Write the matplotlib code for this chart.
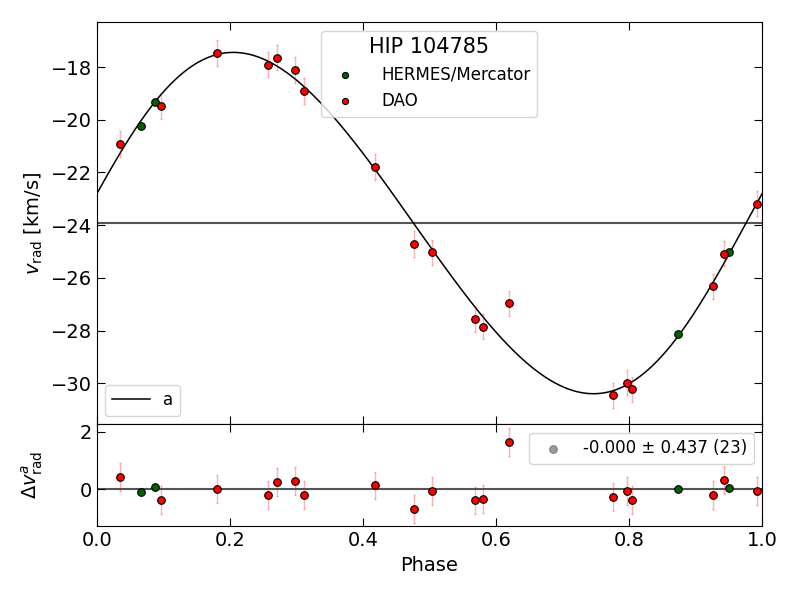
import numpy as np
import matplotlib
matplotlib.use("Agg")
import matplotlib.pyplot as plt

# ---- data ----
phase_hermes = [0.066, 0.087, 0.874, 0.950]
v_hermes = [-20.23, -19.33, -28.13, -25.03]
res_hermes = [-0.08, 0.08, 0.00, 0.05]

phase_dao = [0.0356, 0.0962, 0.1805, 0.257, 0.271, 0.298, 0.311, 0.4175, 0.477,
             0.504, 0.568, 0.580, 0.6196, 0.7755, 0.7975, 0.804, 0.926, 0.943, 0.992]
v_dao = [-20.92, -19.48, -17.47, -17.91, -17.65, -18.11, -18.91, -21.79, -24.72,
         -25.03, -27.56, -27.85, -26.96, -30.46, -29.97, -30.23, -26.32, -25.08, -23.18]
err_dao = [0.48] * 19
res_dao = [0.44, -0.36, 0.02, -0.19, 0.27, 0.30, -0.18, 0.14, -0.68,
           -0.04, -0.38, -0.33, 1.65, -0.25, -0.04, -0.36, -0.19, 0.32, -0.04]

# orbital model parameters (phase units)
K = 6.475
gamma = -23.92
ecc = 0.065
omega_deg = 270.0
T0 = 0.976

star = "HIP 104785"
resid_label = "-0.000 ± 0.437 (23)"


def kepler_rv(ph):
    M = 2 * np.pi * ((ph - T0) % 1.0)
    E = M.copy()
    for _ in range(50):
        E = E - (E - ecc * np.sin(E) - M) / (1 - ecc * np.cos(E))
    nu = 2 * np.arctan2(np.sqrt(1 + ecc) * np.sin(E / 2), np.sqrt(1 - ecc) * np.cos(E / 2))
    w = np.deg2rad(omega_deg)
    return gamma + K * (np.cos(nu + w) + ecc * np.cos(w))


fig = plt.figure(figsize=(8, 6), dpi=100)
gs = fig.add_gridspec(2, 1, height_ratios=[3.94, 1], hspace=0,
                      left=0.121, right=0.9525, top=0.963, bottom=0.123)
ax = fig.add_subplot(gs[0])
axr = fig.add_subplot(gs[1], sharex=ax)

ph = np.linspace(0, 1, 1000)
line, = ax.plot(ph, kepler_rv(ph), color="black", lw=1.1, label="a")
ax.axhline(gamma, color="#555555", lw=1.5, zorder=1)

ax.errorbar(phase_dao, v_dao, yerr=err_dao, fmt="none", ecolor="red", alpha=0.3,
            elinewidth=1, capsize=1, zorder=2)
h1 = ax.scatter(phase_hermes, v_hermes, s=30, c="darkgreen", edgecolors="black",
                linewidths=0.8, zorder=3, label="HERMES/Mercator")
h2 = ax.scatter(phase_dao, v_dao, s=30, c="red", edgecolors="black",
                linewidths=0.8, zorder=3, label="DAO")

leg1 = ax.legend(handles=[h1, h2], loc="upper center", title=star, fontsize=12,
                 title_fontsize=15, markerscale=0.8, handletextpad=1.2)
ax.add_artist(leg1)
ax.legend(handles=[line], loc="lower left", fontsize=12, handlelength=2.3)

ax.set_xlim(0, 1)
ax.set_ylim(-31.55, -16.3)
ax.set_yticks([-30, -28, -26, -24, -22, -20, -18])
ax.set_ylabel(r"$v_{\rm rad}$ [km/s]", fontsize=14)
ax.tick_params(direction="in", top=True, right=True, labelsize=14, length=6,
               labelbottom=False)

axr.axhline(0, color="#555555", lw=1.5, zorder=1)
axr.errorbar(phase_dao, res_dao, yerr=err_dao, fmt="none", ecolor="red", alpha=0.3,
             elinewidth=1, capsize=1, zorder=2)
axr.scatter(phase_hermes, res_hermes, s=30, c="darkgreen", edgecolors="black",
            linewidths=0.8, zorder=3)
axr.scatter(phase_dao, res_dao, s=30, c="red", edgecolors="black",
            linewidths=0.8, zorder=3)
g = axr.scatter([], [], s=30, c="gray", alpha=0.8, label=resid_label)
axr.legend(handles=[g], loc="upper right", fontsize=12)
axr.set_ylim(-1.27, 2.26)
axr.set_yticks([0, 2])
axr.set_xlim(0, 1)
axr.set_xticks([0.0, 0.2, 0.4, 0.6, 0.8, 1.0])
axr.set_xlabel("Phase", fontsize=14)
axr.set_ylabel(r"$\Delta v_{\rm rad}^{a}$", fontsize=14)
axr.tick_params(direction="in", top=True, right=True, labelsize=14, length=6)

fig.align_ylabels([ax, axr])
fig.savefig("out.png", dpi=100)
